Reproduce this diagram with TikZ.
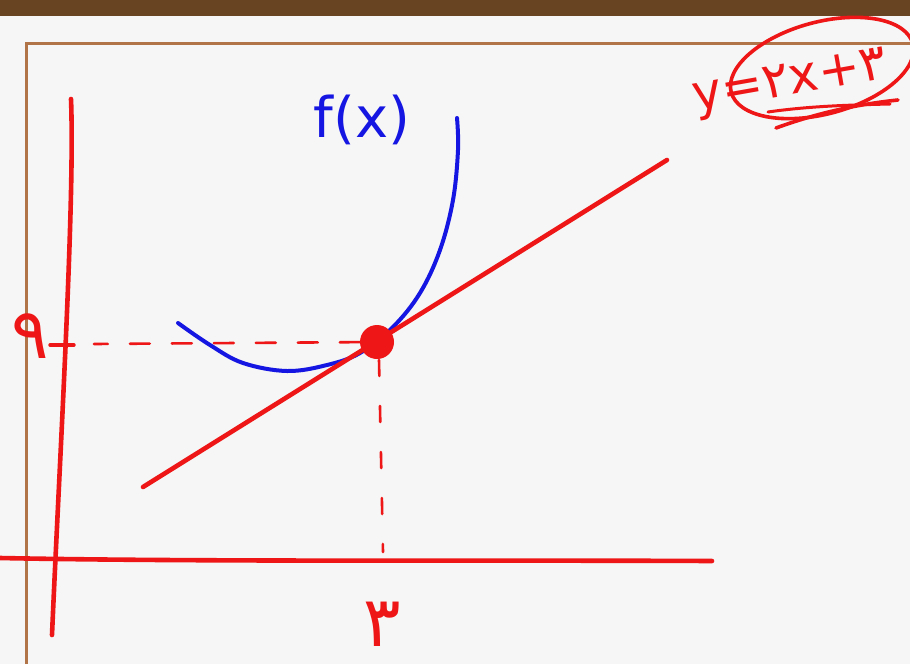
\documentclass[tikz,border=0pt]{standalone}
\usepackage{fontspec}
\usepackage{tikz}
\usetikzlibrary{calc,positioning}
\newfontfamily\fahand{DejaVu Sans}
\definecolor{penRed}{RGB}{238,22,22}
\definecolor{penBlue}{RGB}{22,22,226}
\definecolor{frameBrown}{RGB}{176,116,72}
\definecolor{woodBrown}{RGB}{104,68,34}
\definecolor{paperGray}{RGB}{246,246,246}
\tikzset{
  pen/.style={penRed, line width=4.6pt, line cap=round, line join=round},
  guide/.style={penRed, line width=2.6pt, line cap=round, dash pattern=on 20pt off 22pt},
  handtext/.style={inner sep=0pt, font=\fahand},
}
\begin{document}
\begin{tikzpicture}[x=1pt,y=-1pt]
\useasboundingbox (0,0) rectangle (910,664);
\fill[paperGray] (0,0) rectangle (910,664);
\fill[woodBrown] (0,0) rectangle (910,16);
\draw[frameBrown, line width=3pt] (26,664) -- (26,43) -- (910,43);

% axes
\draw[pen] (71,99) .. controls (75,200) and (60,450) .. (52,635);
\draw[pen] (0,558) .. controls (200,562) and (500,560) .. (712,561);
\coordinate (ytick) at (62,344);
\coordinate (xfoot) at (383,552);
\draw[pen, line width=3.4pt] (50,345) -- (74,345);

% f(x) and its tangent
\draw[penBlue, line width=4pt, line cap=round] plot[smooth, tension=0.6] coordinates {
  (178,323) (210,345) (243,363) (287,371) (327,365) (360,353) (393,327)
  (420,293) (440,250) (453,200) (458,150) (457,118)};
\draw[pen] (143,487) -- (667,160);
\node[circle, fill=penRed, minimum size=34pt, inner sep=0pt] (tp) at (377,342) {};
\draw[guide] (tp) -- ($(ytick)+(32,0)$);
\draw[guide, dash pattern=on 16pt off 30pt] ($(tp)+(2,18)$) -- (xfoot);

% labels
\node[handtext, text=penBlue, font=\fahand\fontsize{56}{56}\selectfont] (fx) at (362,120) {f(x)};
\node[handtext, text=penRed, font=\fahand\fontsize{70}{70}\selectfont] (nine) at (30,336) {۹};
\node[handtext, text=penRed, font=\fahand\fontsize{70}{70}\selectfont] (three) at (382,624) {۳};
\node[handtext, text=penRed, rotate=10, font=\fahand\fontsize{50}{50}\selectfont] (eqn) at (790,84) {y=۲x+۳};
\draw[pen, line width=3.6pt, rotate around={15:(822,68)}] (822,68) ellipse [x radius=94, y radius=46];
\draw[pen, line width=3.6pt] (776,128) .. controls (820,112) and (860,104) .. (898,100);
\draw[pen, line width=3pt] (768,112) .. controls (810,106) and (850,105) .. (890,104);
\end{tikzpicture}
\end{document}
